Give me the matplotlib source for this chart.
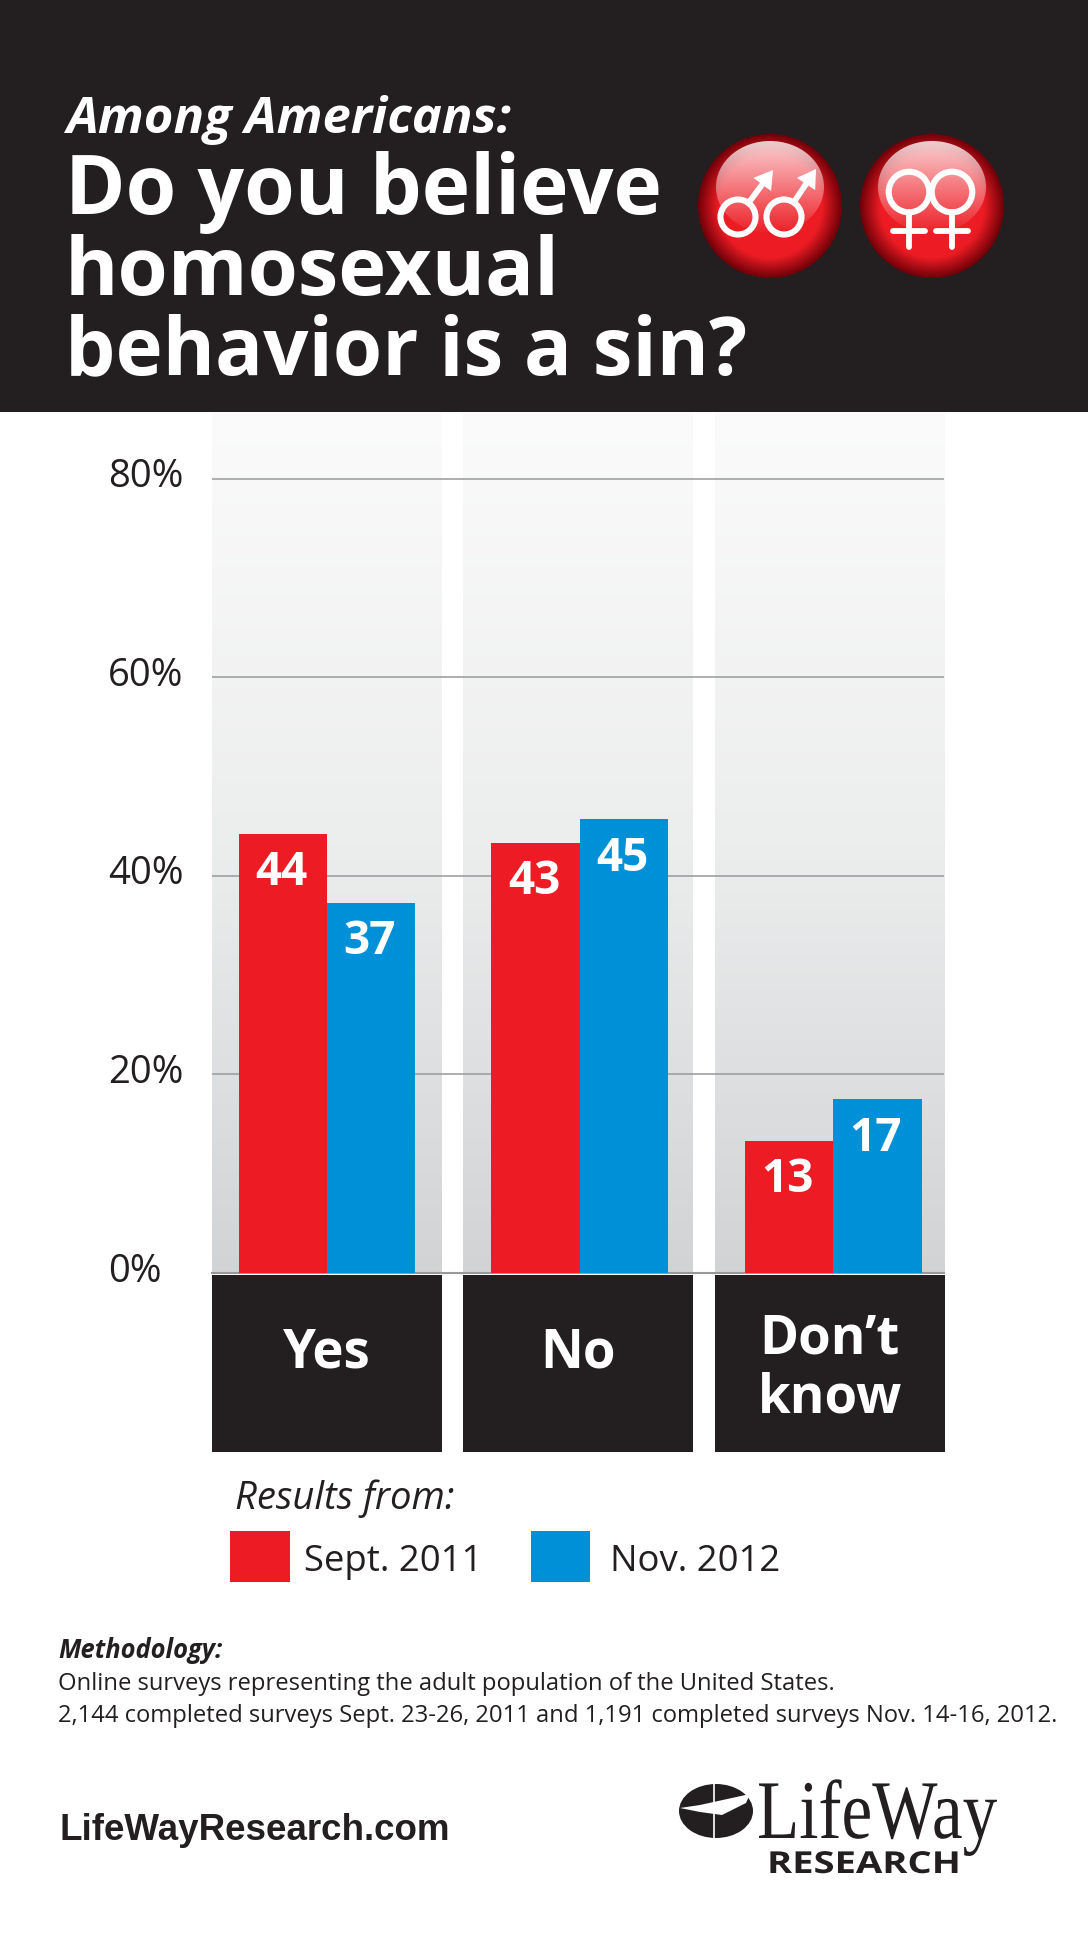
#Libraries
import numpy as np
import matplotlib
matplotlib.use('Agg')
import matplotlib.pyplot as plt
from matplotlib.patches import Circle, Ellipse, Rectangle, Polygon
from matplotlib.patheffects import AbstractPathEffect
from matplotlib.transforms import Affine2D, ScaledTranslation

#Data
categories=['Yes','No','Don\u2019t\nknow']
sept_2011=[44.2,43.3,13.3]
nov_2012=[37.3,45.7,17.5]
sept_labels=['44','43','13']
nov_labels=['37','45','17']
y_ticks=[0,20,40,60,80]
y_labels=['0%','20%','40%','60%','80%']
legend_names=['Sept. 2011','Nov. 2012']

#Colors
BLACK='#231f20'
RED='#ed1c24'
BLUE='#0090d7'
FONT='Open Sans'

W,H=1088,1950
fig=plt.figure(figsize=(W/100,H/100),dpi=100,facecolor='white')

#Squeeze or widen a text sideways, the logo lettering is not a stock font width
class XScale(AbstractPathEffect):
    def __init__(self,sx,anchor):
        super().__init__()
        self.sx=sx
        self.anchor=anchor
    def draw_path(self,renderer,gc,tpath,affine,rgbFace=None):
        t=affine+Affine2D().translate(-self.anchor,0).scale(self.sx,1).translate(self.anchor,0)
        renderer.draw_path(gc,tpath,t,rgbFace)

#Chart axes, placed by pixel box
left,right,top,bottom=212,944.5,411,1273
ax=fig.add_axes([left/W,1-bottom/H,(right-left)/W,(bottom-top)/H])
ax.set_facecolor('none')
for s in ax.spines.values():
    s.set_visible(False)

#Background panels with gradient
panel_w=0.915
grad=np.linspace(0,1,256).reshape(-1,1)
ymax=86.8
for i in range(3):
    ax.imshow(grad,extent=(i-panel_w/2,i+panel_w/2,0,ymax),aspect='auto',origin='upper',
              cmap=matplotlib.colors.LinearSegmentedColormap.from_list('g',['#fbfbfb','#eceded','#d2d3d5']),
              vmin=0,vmax=1,zorder=0)

#Gridlines
for t in y_ticks[1:]:
    ax.axhline(t,color='#98999b',lw=1.1,zorder=1)
ax.axhline(0,color='#98999b',lw=1.5,zorder=1,clip_on=False)

#Bars, groups sit a little off the panel centres in the original
x=np.array([0,1.0065,2.014])
bw=0.352
b1=ax.bar(x-bw/2,sept_2011,bw,color=RED,zorder=2)
b2=ax.bar(x+bw/2,nov_2012,bw,color=BLUE,zorder=2)
for bars,labels in ((b1,sept_labels),(b2,nov_labels)):
    for b,l in zip(bars,labels):
        ax.annotate(l,(b.get_x()+b.get_width()/2,b.get_height()),xytext=(-1,-28),textcoords='offset points',
                    ha='center',va='center',color='white',fontsize=33,fontweight='bold',family=FONT,zorder=3)

ax.set_xlim(-panel_w/2,2+panel_w/2)
ax.set_ylim(0,ymax)
ax.set_xticks([])
ax.set_yticks(y_ticks,y_labels)
ax.tick_params(axis='y',length=0,pad=75,labelsize=27.5,labelcolor=BLACK)
off=ScaledTranslation(0,6/100,fig.dpi_scale_trans)
for lab in ax.get_yticklabels():
    lab.set_ha('left')
    lab.set_family(FONT)
    lab.set_transform(lab.get_transform()+off)

#Pixel overlay for header, boxes, legend and footer
o=fig.add_axes([0,0,1,1],zorder=5)
o.set_xlim(0,W)
o.set_ylim(H,0)
o.axis('off')
o.patch.set_alpha(0)

#Header
o.add_patch(Rectangle((0,0),W,412,color=BLACK,lw=0))
o.text(66,133,'Among Americans:',color='white',fontsize=36.5,fontweight='bold',style='italic',family=FONT,va='baseline')
for txt,yy,fs in (('Do you believe',214,59),('homosexual',295,58.5),('behavior is a sin?',374,57.4)):
    o.text(65,yy,txt,color='white',fontsize=fs,fontweight='bold',family=FONT,va='baseline')

#Glossy red icons
def sphere(cx,cy,r=72):
    n=300
    yy,xx=np.mgrid[-1:1:n*1j,-1:1:n*1j]
    d=np.sqrt(xx**2+yy**2)
    t=np.clip((d-0.72)/0.28,0,1)
    c0=np.array([0xed,0x1c,0x24])/255
    c1=np.array([0x70,0x00,0x08])/255
    img=c0+(c1-c0)*t[...,None]
    im=o.imshow(img,extent=(cx-r,cx+r,cy+r,cy-r),aspect='auto',zorder=2)
    im.set_clip_path(Circle((cx,cy),r,transform=o.transData))
    #highlight
    hl_img=np.zeros((n,n,4))
    hl_img[...,:3]=1
    hl_img[...,3]=np.linspace(0.8,0.02,n).reshape(-1,1)
    hl=o.imshow(hl_img,extent=(cx-54,cx+54,cy+27,cy-65),aspect='auto',zorder=3)
    hl.set_clip_path(Ellipse((cx,cy-19),108,92,transform=o.transData))

sphere(770,206)
sphere(932,206)

def male(cx,cy,tx,ty,r=17.5):
    o.add_patch(Circle((cx,cy),r,fill=False,ec='white',lw=4.4,zorder=4))
    d=np.array([tx-cx,ty-cy],float)
    d/=np.hypot(*d)
    n=np.array([-d[1],d[0]])
    p0=np.array([cx,cy])+d*r
    tip=np.array([tx,ty])
    base=tip-d*18
    o.plot([p0[0],base[0]],[p0[1],base[1]],color='white',lw=4.2,zorder=4)
    o.add_patch(Polygon([tip,base+n*11,base-n*11],color='white',lw=0,zorder=4))

def female(cx,cy,r=20.3):
    o.add_patch(Circle((cx,cy),r,fill=False,ec='white',lw=4.4,zorder=4))
    o.plot([cx,cx],[cy+r,247],color='white',lw=4.2,solid_capstyle='round',zorder=4)
    o.plot([cx-16,cx+16],[231,231],color='white',lw=4.2,solid_capstyle='round',zorder=4)

male(738,217,773,170)
male(784,217,816,169)
female(909,192)
female(952,192)

#Category boxes
for i,c in enumerate(categories):
    bx=left+(i+panel_w/2)*(right-left)/(2+panel_w)
    o.add_patch(Rectangle((bx-115,1275),230,177,color=BLACK,lw=0))
    o.text(bx if i==2 else bx,1369 if i==2 else 1354,c,color='white',fontsize=38,fontweight='bold',family=FONT,
           ha='center',va='center',linespacing=1.13)

#Legend
o.text(235,1499,'Results from:',color=BLACK,fontsize=27.5,style='italic',family=FONT,va='center')
o.add_patch(Rectangle((230,1531),60,51,color=RED,lw=0))
o.add_patch(Rectangle((531,1531),59,51,color=BLUE,lw=0))
o.text(304,1562,legend_names[0],color=BLACK,fontsize=26.3,family=FONT,va='center')
o.text(610,1562,legend_names[1],color=BLACK,fontsize=26.3,family=FONT,va='center')

#Methodology
o.text(58,1651,'Methodology:',color=BLACK,fontsize=18.4,fontweight='bold',style='italic',family=FONT,va='center')
o.text(58,1684,'Online surveys representing the adult population of the United States.',color=BLACK,fontsize=17.1,family=FONT,va='center')
o.text(58,1716,'2,144 completed surveys Sept. 23-26, 2011 and 1,191 completed surveys Nov. 14-16, 2012.',color=BLACK,fontsize=17.1,family=FONT,va='center')

#Footer
o.text(60,1831,'LifeWayResearch.com',color=BLACK,fontsize=26.5,fontweight='bold',family='Liberation Sans',va='center')

#LifeWay logo
o.add_patch(Ellipse((716,1811),74,54,color=BLACK,lw=0,zorder=2))
o.plot([714,714],[1782,1840],color='white',lw=1.2,zorder=3)
o.add_patch(Polygon([(680,1808),(700,1805),(750,1794),(746,1803),(722,1815),(700,1812)],color='white',lw=0,zorder=3))
o.text(757,1838,'LifeWay',color=BLACK,fontsize=60,family='Liberation Serif',va='baseline',
       path_effects=[XScale(0.83,757)])
o.text(767,1865,'RESEARCH',color=BLACK,fontsize=21.8,fontweight='bold',family=FONT,va='center',
       path_effects=[XScale(1.26,767)])

o.set_xlim(0,W)
o.set_ylim(H,0)

fig.savefig('out.png',dpi=100)
